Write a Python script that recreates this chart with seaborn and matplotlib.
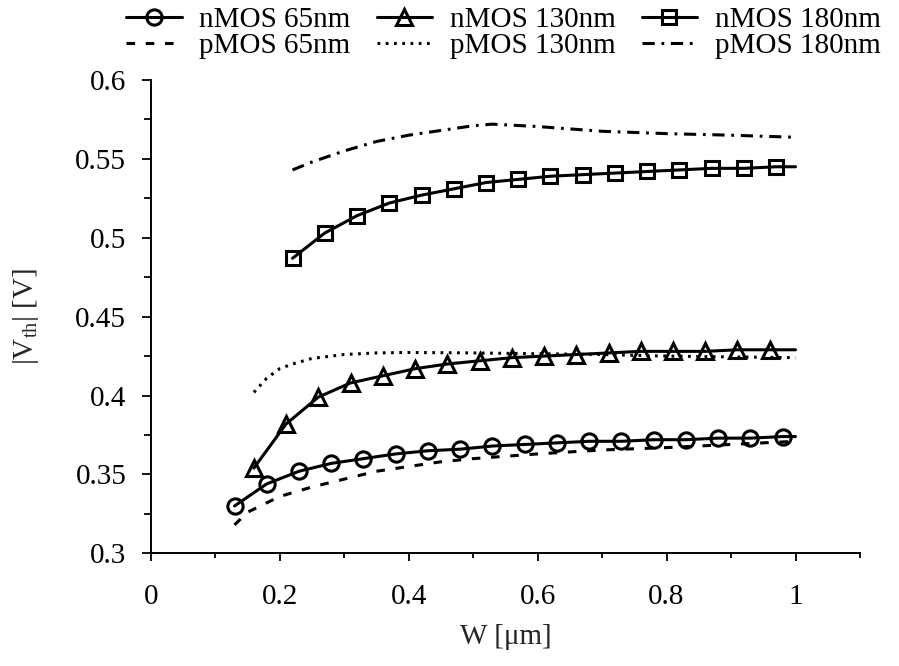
import matplotlib
matplotlib.use("Agg")
import matplotlib.pyplot as plt
import seaborn as sns
from matplotlib.ticker import MultipleLocator, FuncFormatter

# channel width W [um] and |Vth| [V]
w_n65 = [0.13, 0.18, 0.23, 0.28, 0.33, 0.38, 0.43, 0.48, 0.53, 0.58, 0.63, 0.68, 0.73, 0.78, 0.83, 0.88, 0.93, 0.98, 1.0]
vth_n65 = [0.330, 0.344, 0.352, 0.357, 0.360, 0.363, 0.365, 0.366, 0.368, 0.369, 0.370, 0.371, 0.371, 0.372, 0.372, 0.373, 0.373, 0.374, 0.374]

w_n130 = [0.16, 0.21, 0.26, 0.31, 0.36, 0.41, 0.46, 0.51, 0.56, 0.61, 0.66, 0.71, 0.76, 0.81, 0.86, 0.91, 0.96, 1.0]
vth_n130 = [0.354, 0.382, 0.399, 0.408, 0.4125, 0.417, 0.420, 0.422, 0.424, 0.425, 0.426, 0.427, 0.428, 0.428, 0.428, 0.429, 0.429, 0.429]

w_n180 = [0.22, 0.27, 0.32, 0.37, 0.42, 0.47, 0.52, 0.57, 0.62, 0.67, 0.72, 0.77, 0.82, 0.87, 0.92, 0.97, 1.0]
vth_n180 = [0.487, 0.503, 0.514, 0.522, 0.527, 0.531, 0.535, 0.537, 0.539, 0.540, 0.541, 0.542, 0.543, 0.544, 0.544, 0.545, 0.545]

w_p65 = [0.13, 0.15, 0.2, 0.25, 0.3, 0.35, 0.4, 0.45, 0.5, 0.6, 0.7, 0.8, 0.9, 1.0]
vth_p65 = [0.318, 0.326, 0.336, 0.342, 0.347, 0.352, 0.355, 0.358, 0.360, 0.363, 0.3655, 0.367, 0.369, 0.371]

w_p130 = [0.16, 0.18, 0.2, 0.22, 0.25, 0.3, 0.35, 0.4, 0.5, 0.6, 0.7, 0.8, 0.9, 1.0]
vth_p130 = [0.402, 0.411, 0.417, 0.420, 0.4235, 0.426, 0.427, 0.4273, 0.427, 0.4265, 0.426, 0.425, 0.4245, 0.424]

w_p180 = [0.22, 0.25, 0.3, 0.35, 0.4, 0.45, 0.5, 0.53, 0.6, 0.7, 0.8, 0.9, 1.0]
vth_p180 = [0.543, 0.548, 0.555, 0.561, 0.565, 0.568, 0.571, 0.572, 0.5705, 0.5675, 0.566, 0.565, 0.5637]

sns.set_style("ticks")
plt.rcParams["font.family"] = ["Liberation Serif", "DejaVu Serif"]
plt.rcParams["font.size"] = 21
plt.rcParams["mathtext.fontset"] = "custom"
plt.rcParams["mathtext.rm"] = "Liberation Serif"
plt.rcParams["mathtext.it"] = "Liberation Serif:italic"
plt.rcParams["text.color"] = "black"
plt.rcParams["xtick.color"] = "black"
plt.rcParams["ytick.color"] = "black"

fig = plt.figure(figsize=(8.99, 6.66), dpi=100)
ax = fig.add_axes([0.1676, 0.1692, 0.789, 0.7107])

series = [
    (w_n65, vth_n65, "nMOS 65nm", dict(marker="o", markersize=11, linestyle="-", markevery=slice(0, -1))),
    (w_p65, vth_p65, "pMOS 65nm", dict(linestyle=(0, (2.8, 3.5)))),
    (w_n130, vth_n130, "nMOS 130nm", dict(marker="^", markersize=12, linestyle="-", markevery=slice(0, -1))),
    (w_p130, vth_p130, "pMOS 130nm", dict(linestyle=(0, (0.9, 1.8)))),
    (w_n180, vth_n180, "nMOS 180nm", dict(marker="s", markersize=10, linestyle="-", markevery=slice(0, -1))),
    (w_p180, vth_p180, "pMOS 180nm", dict(linestyle=(0, (4, 2.2, 0.9, 2.2)))),
]

for w, v, name, style in series:
    sns.lineplot(x=w, y=v, ax=ax, color="black", label=name, linewidth=2.2,
                 estimator=None, errorbar=None, sort=False,
                 fillstyle="none", markeredgecolor="black", markeredgewidth=2.2,
                 **style)

if ax.get_legend() is not None:
    ax.get_legend().remove()

handles, labels = ax.get_legend_handles_labels()
fig.legend(handles, labels, ncol=3, loc="upper right", bbox_to_anchor=(895 / 899, 1.012),
           frameon=False, borderpad=0, labelspacing=0.0, handlelength=1.9,
           handletextpad=0.6, columnspacing=0.9, fontsize=21)

ax.set_xlim(0, 1.1)
ax.set_ylim(0.3, 0.6)
ax.xaxis.set_major_locator(MultipleLocator(0.2))
ax.xaxis.set_minor_locator(MultipleLocator(0.1))
ax.yaxis.set_major_locator(MultipleLocator(0.05))
ax.yaxis.set_minor_locator(MultipleLocator(0.025))
fmt = FuncFormatter(lambda v, p: f"{v:g}")
ax.xaxis.set_major_formatter(fmt)
ax.yaxis.set_major_formatter(fmt)

ax.tick_params(axis="x", which="major", length=6, width=1.3, pad=16, direction="out")
ax.tick_params(axis="x", which="minor", length=3.5, width=1.3, direction="out")
ax.tick_params(axis="y", which="major", length=6.5, width=1.3, pad=11, direction="out")
ax.tick_params(axis="y", which="minor", length=5, width=1.3, direction="out")

sns.despine(ax=ax)
for s in ["left", "bottom"]:
    ax.spines[s].set_color("black")
    ax.spines[s].set_linewidth(1.4)

ax.set_xlabel("W [μm]")
ax.set_ylabel("|V$_{\\mathrm{th}}$| [V]")
ax.xaxis.set_label_coords(0.5, -0.15)
ax.yaxis.set_label_coords(-0.155, 0.5)

fig.savefig("out.png", dpi=100)
